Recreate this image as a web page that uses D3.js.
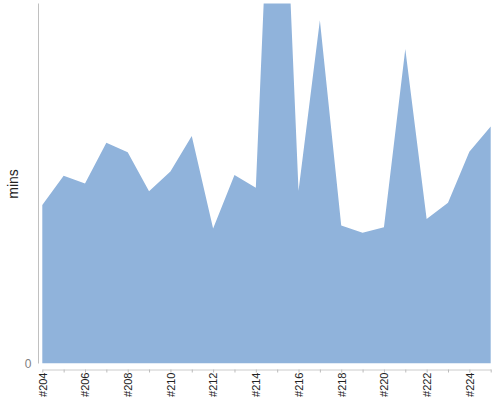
<!DOCTYPE html>
<html>
<head>
<meta charset="utf-8">
<script src="https://cdn.jsdelivr.net/npm/d3@7/dist/d3.min.js"></script>
<style>
  html, body { margin: 0; padding: 0; background: #fff; }
  svg { display: block; font-family: "Liberation Sans", Arial, sans-serif; }
</style>
</head>
<body>
<svg id="chart" width="500" height="400"></svg>
<script>
const categories = ["#204","#205","#206","#207","#208","#209","#210","#211","#212","#213","#214",
  "#215","#216","#217","#218","#219","#220","#221","#222","#223","#224","#225"];
const minutes = [26.4, 31.3, 30.0, 36.8, 35.2, 28.7, 32.0, 37.9, 22.5, 31.4, 29.3,
  113.0, 28.8, 57.2, 23.0, 21.8, 22.7, 52.4, 24.1, 26.8, 35.3, 39.5];
const yTicks = [0];
const yLabel = "mins";

const svg = d3.select("#chart");
const x = d3.scalePoint().domain(categories).range([42.3, 490.7]);
const y = d3.scaleLinear().domain([0, 60]).range([363.5, 3.5]);

const data = categories.map((c, i) => ({ c, v: minutes[i] }));

svg.append("defs").append("clipPath").attr("id", "clip")
  .append("rect").attr("x", 0).attr("y", 3.5).attr("width", 500).attr("height", 360);

const area = d3.area()
  .x(d => x(d.c))
  .y0(y(0))
  .y1(d => y(d.v));

svg.append("path")
  .datum(data)
  .attr("clip-path", "url(#clip)")
  .attr("fill", "#90b3db")
  .attr("d", area);

// y axis
const yAxis = svg.append("g").attr("transform", "translate(38.5,0)")
  .attr("color", "#808080")
  .call(d3.axisLeft(y).tickValues(yTicks).tickSize(0).tickPadding(7));
yAxis.select(".domain").attr("stroke", "#c0c0c0").attr("d", `M0,${y.range()[1]}V${y.range()[0]}`);
yAxis.selectAll("text").attr("font-size", 12).attr("fill", "#808080")
  .attr("font-family", "Liberation Sans, Arial, sans-serif");

// x axis
const xAxis = svg.append("g").attr("transform", "translate(0,369.5)")
  .call(d3.axisBottom(x).tickSize(3).tickSizeOuter(0)
    .tickFormat((d, i) => i % 2 === 0 ? d : ""));
xAxis.select(".domain").attr("stroke", "#ccc");
xAxis.selectAll(".tick line").attr("stroke", "#bbb");
xAxis.selectAll("text")
  .attr("font-size", 11)
  .attr("fill", "#222")
  .attr("font-family", "Liberation Sans, Arial, sans-serif")
  .attr("text-anchor", "end")
  .attr("transform", "rotate(-90)")
  .attr("x", -3)
  .attr("y", 0)
  .attr("dy", "0.35em");

// y label
svg.append("text")
  .attr("transform", "translate(18,184) rotate(-90)")
  .attr("text-anchor", "middle")
  .attr("font-size", 14)
  .attr("fill", "#222")
  .text(yLabel);
</script>
</body>
</html>
